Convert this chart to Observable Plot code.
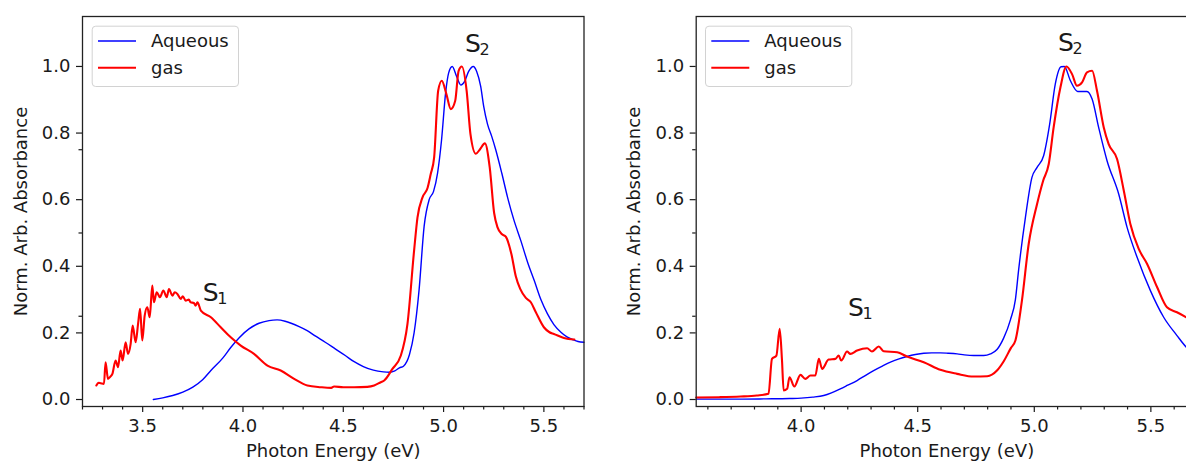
<!DOCTYPE html>
<html>
<head>
<meta charset="utf-8">
<script src="https://cdn.jsdelivr.net/npm/d3@7"></script>
<script src="https://cdn.jsdelivr.net/npm/@observablehq/plot@0.6"></script>
<style>
  html, body { margin: 0; padding: 0; background: #fff; }
  #wrap { position: relative; width: 1186px; height: 462px; overflow: hidden; background: #fff; }
  .panel { position: absolute; top: 0; width: 600px; height: 462px; }
  .panel svg { max-width: none !important; display: block; }
  .panel svg.legend { position: absolute; top: 0; left: 0; pointer-events: none; }
</style>
</head>
<body>
<div id="wrap"></div>
<script>
// ---------- Data ----------
const seriesNames = ["Aqueous", "gas"];
const seriesColors = ["#0000ff", "#ff0000"];
const axisXLabel = "Photon Energy (eV)";
const axisYLabel = "Norm. Arb. Absorbance";

// Left panel
const leftAqE = [3.553,3.60,3.65,3.70,3.75,3.80,3.84,3.90,3.94,3.98,4.03,4.08,4.13,4.17,4.21,4.24,4.28,4.32,4.36,4.41,4.46,4.51,4.55,4.60,4.65,4.70,4.73,4.757,4.78,4.80,4.83,4.853,4.878,4.903,4.928,4.95,4.97,4.99,5.01,5.025,5.043,5.065,5.086,5.105,5.125,5.148,5.165,5.185,5.20,5.219,5.24,5.26,5.29,5.319,5.35,5.385,5.42,5.452,5.485,5.518,5.55,5.585,5.615,5.643,5.67,5.70];
const leftAqV = [0.000,0.005,0.012,0.022,0.037,0.060,0.087,0.125,0.157,0.185,0.212,0.229,0.237,0.239,0.235,0.229,0.219,0.207,0.191,0.172,0.152,0.132,0.115,0.099,0.088,0.083,0.082,0.086,0.095,0.100,0.135,0.200,0.330,0.520,0.600,0.625,0.680,0.780,0.920,0.980,1.000,0.970,0.944,0.955,0.985,1.000,0.985,0.940,0.880,0.827,0.790,0.750,0.680,0.607,0.540,0.477,0.410,0.357,0.300,0.257,0.225,0.202,0.188,0.180,0.174,0.172];
const leftGasE = [3.269,3.28,3.29,3.307,3.315,3.327,3.338,3.349,3.365,3.377,3.39,3.40,3.415,3.427,3.44,3.45,3.465,3.477,3.487,3.498,3.51,3.523,3.535,3.548,3.556,3.57,3.586,3.603,3.62,3.631,3.648,3.66,3.673,3.69,3.70,3.714,3.73,3.739,3.755,3.764,3.773,3.79,3.84,3.889,3.939,3.989,4.055,4.122,4.188,4.255,4.321,4.388,4.44,4.454,4.50,4.554,4.62,4.654,4.687,4.704,4.745,4.787,4.82,4.853,4.87,4.895,4.92,4.936,4.953,4.973,4.991,5.014,5.036,5.058,5.075,5.091,5.115,5.134,5.161,5.18,5.206,5.23,5.252,5.269,5.29,5.31,5.338,5.36,5.382,5.41,5.435,5.46,5.50,5.528,5.55,5.60,5.652];
const leftGasV = [0.042,0.050,0.049,0.047,0.112,0.062,0.068,0.077,0.117,0.097,0.147,0.117,0.172,0.137,0.167,0.222,0.172,0.227,0.272,0.177,0.252,0.277,0.247,0.342,0.292,0.322,0.307,0.327,0.307,0.332,0.312,0.322,0.317,0.302,0.310,0.297,0.300,0.292,0.290,0.282,0.292,0.267,0.247,0.217,0.187,0.162,0.137,0.102,0.087,0.062,0.042,0.037,0.035,0.039,0.037,0.037,0.038,0.042,0.052,0.057,0.092,0.132,0.227,0.447,0.547,0.607,0.635,0.677,0.727,0.927,0.957,0.917,0.872,0.897,0.987,1.000,0.927,0.797,0.738,0.750,0.769,0.697,0.560,0.517,0.497,0.489,0.437,0.370,0.332,0.305,0.292,0.262,0.217,0.202,0.197,0.185,0.180];

// Right panel
const rightAqE = [3.55,3.70,3.85,3.95,4.00,4.05,4.097,4.13,4.168,4.20,4.24,4.275,4.311,4.35,4.383,4.42,4.454,4.49,4.526,4.56,4.597,4.63,4.669,4.70,4.74,4.783,4.812,4.84,4.869,4.898,4.919,4.933,4.962,4.99,5.012,5.04,5.066,5.09,5.115,5.129,5.155,5.186,5.21,5.226,5.248,5.276,5.312,5.362,5.398,5.441,5.498,5.555,5.612,5.652,5.67];
const rightAqV = [0.001,0.001,0.002,0.003,0.004,0.007,0.012,0.020,0.032,0.043,0.057,0.072,0.087,0.101,0.112,0.122,0.129,0.135,0.139,0.140,0.140,0.139,0.137,0.134,0.132,0.132,0.137,0.150,0.185,0.240,0.300,0.390,0.547,0.667,0.697,0.732,0.827,0.947,0.999,1.000,0.957,0.925,0.925,0.925,0.902,0.817,0.717,0.617,0.517,0.427,0.327,0.247,0.192,0.157,0.145];
const rightGasE = [3.55,3.65,3.74,3.81,3.86,3.875,3.894,3.908,3.918,3.925,3.94,3.95,3.971,3.997,4.018,4.04,4.061,4.076,4.09,4.118,4.147,4.161,4.172,4.197,4.211,4.24,4.283,4.304,4.333,4.354,4.412,4.454,4.526,4.597,4.669,4.74,4.798,4.84,4.869,4.90,4.919,4.947,4.976,5.012,5.038,5.062,5.083,5.112,5.138,5.162,5.183,5.205,5.226,5.248,5.269,5.298,5.319,5.355,5.384,5.412,5.448,5.484,5.527,5.569,5.612,5.652,5.67];
const rightGasV = [0.006,0.007,0.009,0.012,0.017,0.122,0.132,0.212,0.117,0.027,0.032,0.067,0.039,0.074,0.062,0.072,0.072,0.122,0.092,0.120,0.122,0.132,0.117,0.144,0.137,0.147,0.154,0.144,0.159,0.145,0.142,0.129,0.112,0.089,0.077,0.069,0.070,0.087,0.115,0.155,0.177,0.297,0.467,0.587,0.657,0.707,0.817,0.937,1.000,0.977,0.942,0.952,0.982,0.987,0.927,0.817,0.767,0.722,0.627,0.527,0.452,0.407,0.337,0.277,0.262,0.247,0.240];

// Ticks
const yMajorTicks = [0.0, 0.2, 0.4, 0.6, 0.8, 1.0];
const yMinorTicks = [0.25, 0.5, 0.75];
const leftXMajor = [3.5, 4.0, 4.5, 5.0, 5.5];
const leftXMinor = [3.2,3.3,3.4,3.6,3.7,3.8,3.9,4.1,4.2,4.3,4.4,4.6,4.7,4.8,4.9,5.1,5.2,5.3,5.4,5.6,5.7];
const rightXMajor = [4.0, 4.5, 5.0, 5.5];
const rightXMinor = [3.6,3.7,3.8,3.9,4.1,4.2,4.3,4.4,4.6,4.7,4.8,4.9,5.1,5.2,5.3,5.4,5.6,5.7];

// State annotations (S with subscript)
const leftStateX = [3.80, 5.107];
const leftStateY = [0.297, 1.043];
const rightStateX = [4.201, 5.102];
const rightStateY = [0.252, 1.047];
const stateSubs = ["1", "2"];

// ---------- Drawing ----------
const INK = "#1a1a1a";
const fmt = d3.format(".1f");
const zip = (E, V) => E.map((e, i) => ({e, v: V[i]}));

function panel({aqE, aqV, gasE, gasV, xDomain, xMajor, xMinor, stX, stY, marginLeft, marginRight}) {
  const states = stX.map((x, i) => ({x, y: stY[i], sub: stateSubs[i]}));
  return Plot.plot({
    width: 600, height: 462,
    marginLeft, marginRight, marginTop: 16, marginBottom: 56,
    style: {fontFamily: "DejaVu Sans", fontSize: "18px", color: INK, background: "transparent", overflow: "visible", maxWidth: "none"},
    x: {domain: xDomain},
    y: {domain: [-0.021, 1.15]},
    marks: [
      Plot.line(zip(aqE, aqV), {x: "e", y: "v", stroke: seriesColors[0], strokeWidth: 1.4, curve: "monotone-x"}),
      Plot.line(zip(gasE, gasV), {x: "e", y: "v", stroke: seriesColors[1], strokeWidth: 2.1, curve: "monotone-x"}),
      Plot.axisX(xMinor, {tickSize: 3.5, tickFormat: () => "", label: null, strokeWidth: 1.2}),
      Plot.axisX(xMajor, {tickSize: 6, tickPadding: 7, tickFormat: fmt, label: null, strokeWidth: 1.2}),
      Plot.axisY(yMinorTicks, {tickSize: 3.5, tickFormat: () => "", label: null, strokeWidth: 1.2}),
      Plot.axisY(yMajorTicks, {tickSize: 6, tickPadding: 6, tickFormat: fmt, label: null, strokeWidth: 1.2}),
      Plot.frame({stroke: "#222", strokeWidth: 1.3}),
      Plot.text([axisXLabel], {text: d => d, frameAnchor: "bottom", lineAnchor: "bottom", dy: 50, fontSize: 18, fill: INK}),
      Plot.text([axisYLabel], {text: d => d, frameAnchor: "left", rotate: -90, dx: -61.5, textAnchor: "middle", fontSize: 18, fill: INK}),
      Plot.text(states, {x: "x", y: "y", text: () => "S", textAnchor: "start", lineAnchor: "bottom", fontSize: 25, fill: INK}),
      Plot.text(states, {x: "x", y: "y", text: "sub", textAnchor: "start", lineAnchor: "bottom", dx: 14.5, dy: 3, fontSize: 16, fill: INK})
    ]
  });
}

function legend(boxLeft) {
  const svg = d3.create("svg")
    .attr("class", "legend").attr("width", 600).attr("height", 120)
    .style("font-family", "DejaVu Sans").style("font-size", "18px");
  const top = 25.7, w = 146.3, h = 60.3;
  svg.append("rect").attr("x", boxLeft + 0.5).attr("y", top + 0.5).attr("width", w).attr("height", h)
    .attr("rx", 3.5).attr("fill", "rgba(255,255,255,0.8)").attr("stroke", "#d2d2d2").attr("stroke-width", 1);
  const rows = [{y: 41, base: 47, w: 1.4}, {y: 67.7, base: 73.5, w: 2.1}];
  seriesNames.forEach((name, i) => {
    const r = rows[i];
    svg.append("line").attr("x1", boxLeft + 6.3).attr("x2", boxLeft + 44.3)
      .attr("y1", r.y).attr("y2", r.y).attr("stroke", seriesColors[i]).attr("stroke-width", r.w);
    svg.append("text").attr("x", boxLeft + 59.3).attr("y", r.base).attr("fill", INK).text(name);
  });
  return svg.node();
}

const wrap = document.getElementById("wrap");

const left = panel({
  aqE: leftAqE, aqV: leftAqV, gasE: leftGasE, gasV: leftGasV,
  xDomain: [3.2, 5.7], xMajor: leftXMajor, xMinor: leftXMinor,
  stX: leftStateX, stY: leftStateY, marginLeft: 82, marginRight: 16.5
});
const leftDiv = document.createElement("div");
leftDiv.className = "panel"; leftDiv.style.left = "0px";
leftDiv.appendChild(left);
leftDiv.appendChild(legend(91.7));
wrap.appendChild(leftDiv);

const right = panel({
  aqE: rightAqE, aqV: rightAqV, gasE: rightGasE, gasV: rightGasV,
  xDomain: [3.55, 5.7], xMajor: rightXMajor, xMinor: rightXMinor,
  stX: rightStateX, stY: rightStateY, marginLeft: 95.7, marginRight: 3
});
const rightDiv = document.createElement("div");
rightDiv.className = "panel"; rightDiv.style.left = "600px";
rightDiv.appendChild(right);
rightDiv.appendChild(legend(105));
wrap.appendChild(rightDiv);
</script>
</body>
</html>
